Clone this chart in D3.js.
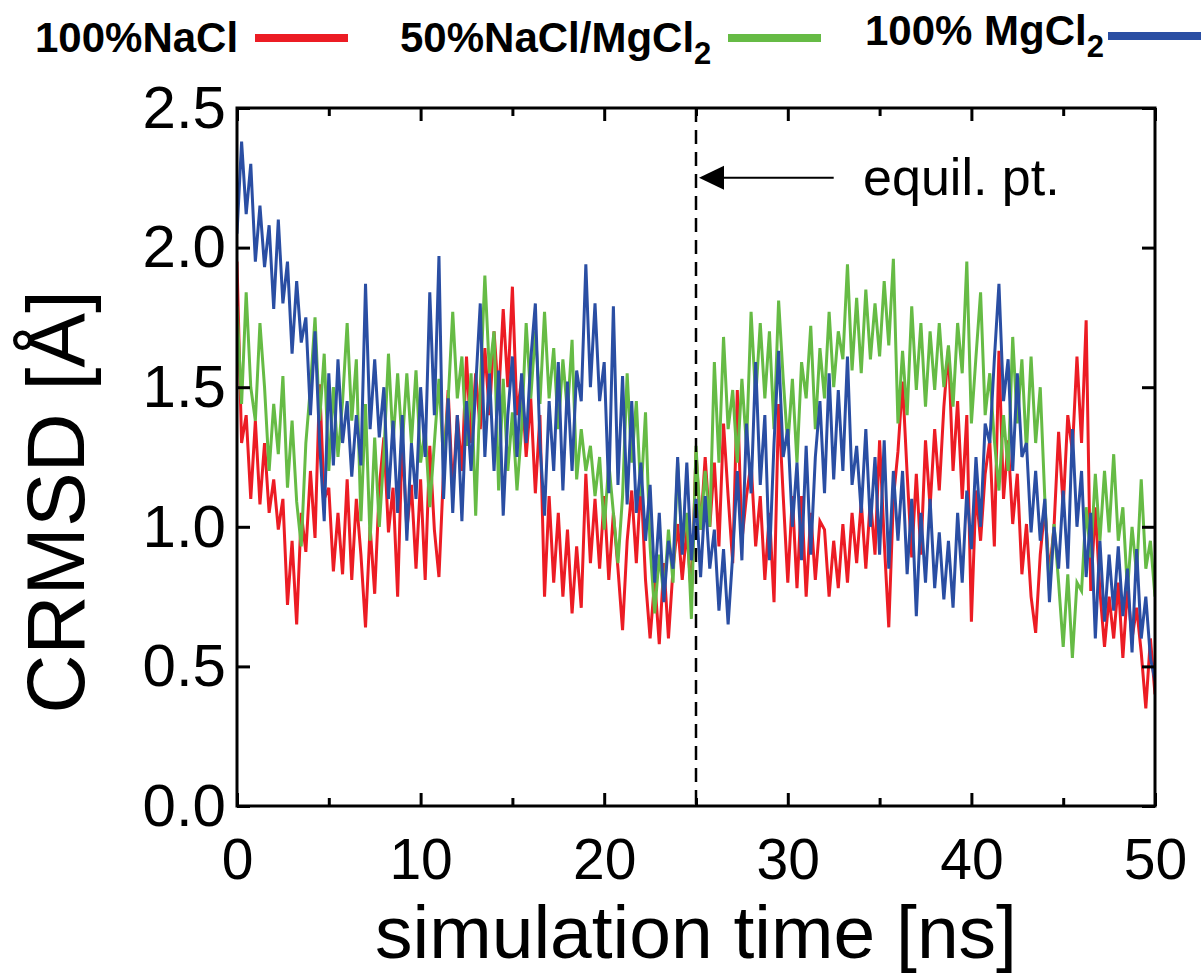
<!DOCTYPE html>
<html>
<head>
<meta charset="utf-8">
<script src="https://cdn.jsdelivr.net/npm/d3@7"></script>
<style>
  body { margin: 0; background: #fff; }
  text { font-family: "Liberation Sans", Arial, Helvetica, sans-serif; fill: #000; }
</style>
</head>
<body>
<script>
// time step of the series (ns)
var STEP = 0.25;

// CRMSD values, 4 per ns from t = 0 to t = 50
var NACL = [
  1.95, 1.30, 1.40, 1.10,  1.38, 1.08, 1.30, 1.05,  1.17, 0.99, 1.10, 0.72,  0.95, 0.65, 1.05, 0.91,
  1.20, 0.96, 1.51, 1.10,  1.14, 0.84, 1.05, 0.83,  1.17, 0.81, 1.10, 0.90,  0.64, 1.00, 0.76, 1.14,
  1.32, 0.98, 1.14, 0.75,  1.32, 0.99, 1.15, 0.85,  1.17, 0.81, 1.29, 0.99,  0.82, 1.20, 1.49, 1.12,
  1.40, 1.20, 1.61, 1.30,  1.55, 1.35, 1.64, 1.40,  1.70, 1.46, 1.78, 1.50,  1.86, 1.40, 1.53, 1.25,
  1.46, 1.12, 1.40, 0.75,  1.11, 0.80, 1.05, 0.75,  0.99, 0.69, 0.93, 0.71,  1.19, 0.87, 1.10, 0.85,
  1.11, 0.81, 1.05, 0.85,  0.63, 0.95, 1.13, 0.87,  1.17, 0.81, 0.60, 0.81,  0.58, 0.87, 0.60, 0.85,
  1.01, 0.81, 0.99, 0.75,  1.27, 0.99, 1.25, 1.00,  1.23, 0.93, 1.37, 1.11,  0.87, 1.49, 0.95, 1.11,
  1.23, 0.93, 1.11, 0.81,  1.05, 0.73, 1.44, 1.11,  0.80, 1.11, 0.78, 1.11,  0.75, 1.05, 0.81, 1.02,
  0.99, 0.75, 0.95, 0.78,  1.01, 0.80, 1.05, 0.87,  1.09, 0.85, 1.10, 0.90,  1.31, 0.95, 0.64, 1.10,
  1.27, 1.52, 1.19, 0.89,  1.19, 0.90, 1.31, 1.07,  1.35, 1.13, 1.43, 1.64,  1.20, 1.45, 1.10, 1.40,
  0.66, 1.13, 0.95, 1.19,  1.31, 0.93, 1.63, 1.10,  1.31, 1.01, 1.19, 0.83,  1.01, 0.75, 0.62, 0.90,
  1.07, 0.83, 1.00, 1.34,  1.07, 1.40, 1.27, 1.61,  1.30, 1.74, 0.77, 1.07,  0.77, 0.57, 0.75, 0.60,
  0.80, 0.53, 0.78, 0.60,  0.71, 0.55, 0.35, 0.60,  0.40
];
var MIX = [
  1.79, 1.44, 1.84, 1.50,  1.38, 1.73, 1.50, 1.20,  1.44, 1.26, 1.54, 1.14,  1.38, 1.09, 0.93, 1.30,
  1.50, 1.75, 1.38, 1.62,  1.20, 1.50, 1.25, 1.45,  1.73, 1.38, 1.60, 1.02,  1.44, 0.95, 1.32, 1.00,
  1.26, 1.62, 1.30, 1.55,  1.29, 1.55, 1.30, 1.56,  1.23, 1.35, 1.07, 1.30,  1.53, 1.23, 1.45, 1.77,
  1.46, 1.61, 1.29, 1.55,  1.04, 1.50, 1.90, 1.55,  1.70, 1.13, 1.53, 1.20,  1.41, 1.13, 1.35, 1.73,
  1.46, 1.70, 1.44, 1.77,  1.46, 1.64, 1.35, 1.60,  1.41, 1.67, 1.17, 1.35,  1.20, 1.29, 1.11, 1.25,
  0.99, 1.23, 1.05, 0.87,  1.11, 1.55, 1.23, 1.45,  1.11, 1.41, 0.93, 0.69,  0.90, 0.75, 0.99, 0.80,
  1.23, 0.93, 1.05, 0.67,  1.29, 0.99, 1.20, 1.00,  1.59, 1.23, 1.68, 1.35,  1.49, 1.23, 1.53, 1.29,
  1.77, 1.46, 1.73, 1.46,  1.70, 1.35, 1.81, 1.53,  1.29, 1.53, 1.23, 1.59,  1.46, 1.72, 1.35, 1.64,
  1.46, 1.77, 1.50, 1.70,  1.60, 1.94, 1.56, 1.82,  1.55, 1.85, 1.60, 1.80,  1.61, 1.88, 1.65, 1.96,
  1.37, 1.63, 1.40, 1.79,  1.49, 1.73, 1.43, 1.70,  1.49, 1.73, 1.50, 1.65,  1.43, 1.73, 1.55, 1.95,
  1.37, 1.61, 1.84, 1.40,  1.55, 1.31, 1.13, 1.40,  1.20, 1.68, 1.37, 1.60,  1.27, 1.61, 1.30, 1.50,
  1.10, 0.77, 1.01, 0.80,  0.57, 0.83, 0.53, 0.80,  0.77, 1.07, 0.89, 1.19,  0.95, 1.20, 0.98, 1.26,
  0.95, 1.07, 0.77, 1.00,  0.83, 1.17, 0.85, 0.95,  0.75
];
var MGCL = [
  2.05, 2.38, 2.12, 2.30,  1.95, 2.15, 1.93, 2.08,  1.78, 2.10, 1.80, 1.95,  1.62, 1.88, 1.66, 1.75,
  1.40, 1.70, 1.30, 1.02,  1.55, 1.22, 1.60, 1.30,  1.45, 1.18, 1.40, 1.22,  1.87, 1.35, 1.60, 1.32,
  1.50, 1.10, 1.38, 1.05,  1.40, 0.95, 1.30, 1.10,  1.50, 1.25, 1.84, 1.40,  1.97, 1.10, 1.46, 1.05,
  1.40, 1.02, 1.45, 1.20,  1.50, 1.80, 1.25, 1.55,  1.20, 1.56, 1.04, 1.40,  1.61, 1.25, 1.55, 1.30,
  1.60, 1.80, 1.30, 1.04,  1.45, 1.20, 1.59, 1.13,  1.52, 1.20, 1.56, 1.45,  1.94, 1.50, 1.80, 1.45,
  1.59, 1.12, 1.79, 1.15,  1.54, 1.08, 1.45, 1.05,  1.23, 0.95, 1.15, 0.80,  1.05, 0.73, 0.95, 0.85,
  1.25, 0.90, 1.23, 0.88,  1.10, 0.82, 1.11, 0.85,  0.99, 0.70, 0.92, 0.65,  0.90, 1.20, 0.88, 1.37,
  1.12, 1.59, 1.15, 1.40,  0.88, 1.30, 1.63, 1.25,  1.35, 1.00, 1.23, 0.88,  1.29, 0.90, 1.25, 1.45,
  1.12, 1.55, 1.17, 1.49,  1.20, 1.61, 1.15, 1.29,  1.05, 1.35, 1.00, 1.25,  0.90, 1.31, 0.85, 1.20,
  0.95, 1.20, 0.83, 1.10,  0.68, 1.05, 0.80, 1.10,  0.78, 0.98, 0.74, 0.95,  0.71, 1.05, 0.80, 1.13,
  0.92, 1.25, 1.00, 1.37,  1.30, 1.60, 1.87, 1.45,  1.60, 1.20, 1.55, 1.25,  1.30, 0.98, 1.20, 0.95,
  1.10, 0.73, 1.00, 0.85,  1.13, 0.85, 1.35, 1.00,  1.20, 0.82, 1.05, 0.60,  0.95, 0.66, 0.90, 0.70,
  0.93, 0.68, 0.85, 0.55,  0.92, 0.60, 0.75, 0.53,  0.45
];

var SERIES_COLORS = ["#ec1c24", "#66bb45", "#2a4ea3"];
var X_TICKS = [0, 10, 20, 30, 40, 50];
var X_MINOR = [5, 15, 25, 35, 45];
var Y_TICKS = [0, 0.5, 1.0, 1.5, 2.0, 2.5];
var EQUIL_T = 25;

var W = 1204, H = 974;
var MARGINS = {top: 108, bottom: 168, left: 237, right: 49};

var svg = d3.select("body").append("svg")
    .attr("width", W)
    .attr("height", H);

var xScale = d3.scaleLinear().domain([0, 50])
    .range([MARGINS.left, W - MARGINS.right]);
var yScale = d3.scaleLinear().domain([0, 2.5])
    .range([H - MARGINS.bottom, MARGINS.top]);

var x0 = xScale.range()[0], x1 = xScale.range()[1];
var y0 = yScale.range()[0], y1 = yScale.range()[1];

// clip for the data lines
svg.append("clipPath").attr("id", "plotclip")
    .append("rect")
    .attr("x", x0).attr("y", y1)
    .attr("width", x1 - x0).attr("height", y0 - y1);

// data lines: red, green, blue (blue on top)
var line = d3.line()
    .x(function (d, i) { return xScale(i * STEP); })
    .y(function (d) { return yScale(d); });

[NACL, MIX, MGCL].forEach(function (s, k) {
    svg.append("path")
        .datum(s)
        .attr("clip-path", "url(#plotclip)")
        .attr("fill", "none")
        .attr("stroke", SERIES_COLORS[k])
        .attr("stroke-width", 3)
        .attr("stroke-linejoin", "miter")
        .attr("d", line);
});

// axes, ticks point inward
var bottomAxis = d3.axisBottom(xScale).tickValues(X_TICKS).tickSize(-13).tickPadding(33)
    .tickFormat(d3.format("d"));
var topAxis = d3.axisTop(xScale).tickValues(X_TICKS).tickSize(-13).tickFormat("");
var leftAxis = d3.axisLeft(yScale).tickValues(Y_TICKS).tickSize(-13).tickPadding(11)
    .tickFormat(d3.format(".1f"));
var rightAxis = d3.axisRight(yScale).tickValues(Y_TICKS).tickSize(-13).tickFormat("");

function styleAxis(g, size) {
    g.select(".domain").remove();
    g.selectAll(".tick line").attr("stroke", "#000").attr("stroke-width", 3);
    g.selectAll(".tick text").attr("font-size", size || 58).attr("fill", "#000")
        .style("font-family", "'Liberation Sans', Arial, sans-serif");
}

svg.append("g").attr("transform", "translate(0," + y0 + ")").call(bottomAxis).call(styleAxis, 57);
svg.append("g").attr("transform", "translate(0," + y1 + ")").call(topAxis).call(styleAxis);
svg.append("g").attr("transform", "translate(" + x0 + ",0)").call(leftAxis).call(styleAxis, 60);
svg.append("g").attr("transform", "translate(" + x1 + ",0)").call(rightAxis).call(styleAxis);

// minor x ticks
var minorB = d3.axisBottom(xScale).tickValues(X_MINOR).tickSize(-8).tickFormat("");
var minorT = d3.axisTop(xScale).tickValues(X_MINOR).tickSize(-8).tickFormat("");
svg.append("g").attr("transform", "translate(0," + y0 + ")").call(minorB).call(styleAxis);
svg.append("g").attr("transform", "translate(0," + y1 + ")").call(minorT).call(styleAxis);

// frame
svg.append("rect")
    .attr("x", x0).attr("y", y1)
    .attr("width", x1 - x0).attr("height", y0 - y1)
    .attr("fill", "none").attr("stroke", "#000").attr("stroke-width", 3);

// equilibration marker
svg.append("line")
    .attr("x1", xScale(EQUIL_T)).attr("x2", xScale(EQUIL_T))
    .attr("y1", y1).attr("y2", y0)
    .attr("stroke", "#000").attr("stroke-width", 2.5)
    .attr("stroke-dasharray", "14,8");

var arrowY = yScale(2.25);
var tip = xScale(EQUIL_T) + 3;
svg.append("line")
    .attr("x1", tip + 20).attr("x2", xScale(32.5))
    .attr("y1", arrowY).attr("y2", arrowY)
    .attr("stroke", "#000").attr("stroke-width", 2);
svg.append("path")
    .attr("d", "M" + tip + "," + arrowY + "L" + (tip + 25) + "," + (arrowY - 12) +
        "L" + (tip + 25) + "," + (arrowY + 12) + "Z")
    .attr("fill", "#000");
svg.append("text")
    .attr("x", xScale(34.1)).attr("y", arrowY + 17)
    .attr("font-size", 52)
    .text("equil. pt.");

// axis titles
svg.append("text")
    .attr("x", (x0 + x1) / 2).attr("y", 958)
    .attr("text-anchor", "middle")
    .attr("font-size", 75)
    .text("simulation time [ns]");

svg.append("text")
    .attr("transform", "translate(84,502) rotate(-90)")
    .attr("text-anchor", "middle")
    .attr("font-size", 82)
    .text("CRMSD [Å]");

// legend
var legend = [
    {name: "100%NaCl", sub: "", x: 35, y: 52, lx: 255, ly: 38},
    {name: "50%NaCl/MgCl", sub: "2", x: 400, y: 52, lx: 728, ly: 38},
    {name: "100% MgCl", sub: "2", x: 865, y: 45, lx: 1108, ly: 36}
];
legend.forEach(function (d, k) {
    var t = svg.append("text")
        .attr("x", d.x).attr("y", d.y)
        .attr("font-size", 42)
        .attr("font-weight", "bold")
        .text(d.name);
    if (d.sub) {
        t.append("tspan").attr("dy", 12).attr("font-size", 31).text(d.sub);
    }
    svg.append("line")
        .attr("x1", d.lx).attr("x2", d.lx + 93)
        .attr("y1", d.ly).attr("y2", d.ly)
        .attr("stroke", SERIES_COLORS[k])
        .attr("stroke-width", 8);
});
</script>
</body>
</html>
